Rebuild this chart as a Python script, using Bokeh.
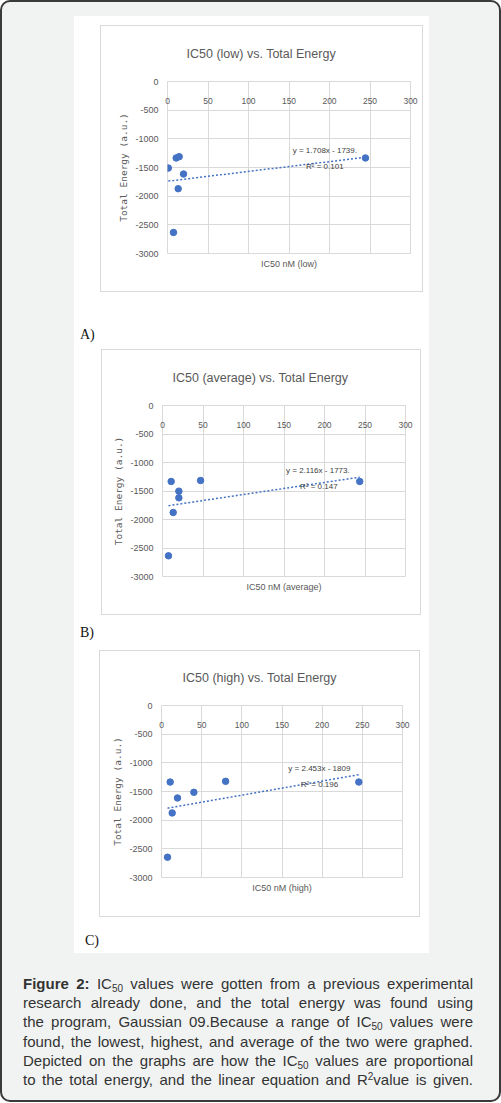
from bokeh.plotting import figure
from bokeh.models import FixedTicker, LinearAxis, Label, Div, Range1d, Title
from bokeh.layouts import column
from bokeh.embed import file_html
from bokeh.resources import INLINE

# ---------------- data ----------------
x_low = [1, 10.7, 14.4, 19.8, 13.2, 7.4, 244.4]
y_low = [-1510, -1334, -1311, -1614, -1870, -2633, -1334]
x_avg = [10.7, 47.0, 20.2, 20.2, 13.2, 7.4, 243.5]
y_avg = [-1333, -1316, -1503, -1620, -1877, -2637, -1333]
x_high = [10.8, 79.8, 40.3, 19.9, 13.3, 7.5, 245.6]
y_high = [-1335, -1323, -1514, -1613, -1874, -2646, -1335]

slopes = [1.708, 2.116, 2.453]
intercepts = [-1739, -1773, -1809]
eq_labels = ["y = 1.708x - 1739.", "y = 2.116x - 1773.", "y = 2.453x - 1809"]
r2_labels = ["R\u00b2 = 0.101", "R\u00b2 = 0.147", "R\u00b2 = 0.196"]
eq_pos = [(154.6, -1199), (152.5, -1140), (157.9, -1092)]
r2_pos = [(171.0, -1486), (169.8, -1421), (173.2, -1370)]
titles = ["IC50 (low) vs. Total Energy", "IC50 (average) vs. Total Energy",
          "IC50 (high) vs. Total Energy"]
x_titles = ["IC50 nM (low)", "IC50 nM (average)", "IC50 nM (high)"]
y_title = "Total Energy (a.u.)"
x_ticks = [0, 50, 100, 150, 200, 250, 300]
x_tick_labels = ["0", "50", "100", "150", "200", "250", "300"]
y_ticks = [0, -500, -1000, -1500, -2000, -2500, -3000]
y_tick_labels = ["0", "-500", "-1000", "-1500", "-2000", "-2500", "-3000"]
panel_labels = ["A)", "B)", "C)"]

caption_lines = [
    "<b>Figure 2:</b> IC<sub>50</sub> values were gotten from a previous experimental",
    "research already done, and the total energy was found using",
    "the program, Gaussian 09.Because a range of IC<sub>50</sub> values were",
    "found, the lowest, highest, and average of the two were graphed.",
    "Depicted on the graphs are how the IC<sub>50</sub> values are proportional",
    "to the total energy, and the linear equation and R<sup>2</sup>value is given.",
]

# ---------------- style ----------------
SANS = "'Liberation Sans', Arial, sans-serif"
MONO = "'DejaVu Sans Mono', monospace"
GREY_TXT = "#595959"
GRID = "#d9d9d9"
BLUE = "#4472C4"

series = [(x_low, y_low), (x_avg, y_avg), (x_high, y_high)]
# canvas (w, h), frame left/top/width/height, title offset, y-label standoff
geom = [
    (321, 265, 66, 55, 243, 172, 19, 8),
    (318, 264, 60, 55, 243, 171, 10, 8),
    (319, 265, 61, 54, 241, 172, 21, 8),
]


def make_chart(i):
    xs, ys = series[i]
    fw, fh, L, T, W, H, toff, ysoff = geom[i]
    p = figure(width=fw, height=fh, x_range=Range1d(0, 300), y_range=Range1d(-3000, 0),
               output_backend="svg", toolbar_location=None, x_axis_location="above",
               min_border_left=L, min_border_right=fw - L - W,
               min_border_top=T, min_border_bottom=fh - T - H,
               background_fill_color="white", border_fill_color="white",
               outline_line_color=GRID)

    xa = p.xaxis[0]
    xa.ticker = FixedTicker(ticks=x_ticks)
    xa.major_label_overrides = dict(zip(x_ticks, x_tick_labels))
    xa.major_tick_out = 0
    xa.major_tick_in = 0
    xa.minor_tick_out = 0
    xa.minor_tick_in = 0
    xa.axis_line_color = None
    xa.major_label_standoff = -22
    xa.major_label_text_font = SANS
    xa.major_label_text_font_size = "8.5px"
    xa.major_label_text_color = GREY_TXT

    p.title.text = titles[i]
    p.title.align = "left"
    p.title.vertical_align = "top"
    p.title.offset = toff
    p.title.standoff = T - 17
    p.title.text_font = SANS
    p.title.text_font_size = "12.5px"
    p.title.text_font_style = "normal"
    p.title.text_color = GREY_TXT

    ya = p.yaxis[0]
    ya.ticker = FixedTicker(ticks=y_ticks)
    ya.major_label_overrides = dict(zip(y_ticks, y_tick_labels))
    ya.major_tick_out = 0
    ya.major_tick_in = 0
    ya.minor_tick_out = 0
    ya.minor_tick_in = 0
    ya.axis_line_color = None
    ya.major_label_standoff = 9
    ya.major_label_text_font = SANS
    ya.major_label_text_font_size = "9px"
    ya.major_label_text_color = GREY_TXT

    # y-axis title as a side title (rotated, centred on the plot area)
    p.add_layout(Title(text=y_title, align="center", vertical_align="bottom",
                       standoff=ysoff, text_font=MONO, text_font_size="9.5px",
                       text_font_style="normal", text_color=GREY_TXT), "left")

    xb = LinearAxis(ticker=FixedTicker(ticks=[]), axis_label=x_titles[i],
                    axis_line_color=None, major_tick_out=0, minor_tick_out=0,
                    major_label_standoff=0, axis_label_standoff=5,
                    axis_label_text_font=SANS, axis_label_text_font_size="9px",
                    axis_label_text_font_style="normal", axis_label_text_color=GREY_TXT)
    p.add_layout(xb, "below")

    p.xgrid.ticker = FixedTicker(ticks=x_ticks)
    p.ygrid.ticker = FixedTicker(ticks=y_ticks)
    p.xgrid.grid_line_color = GRID
    p.ygrid.grid_line_color = GRID

    x0, x1 = min(xs), max(xs)
    p.line([x0, x1], [slopes[i] * x0 + intercepts[i], slopes[i] * x1 + intercepts[i]],
           line_color=BLUE, line_width=1.5, line_dash="2 2")
    p.scatter(xs, ys, size=6.5, color=BLUE)

    for txt, (lx, ly) in ((eq_labels[i], eq_pos[i]), (r2_labels[i], r2_pos[i])):
        p.add_layout(Label(x=lx, y=ly, text=txt, text_font=SANS, text_font_size="8px",
                           text_color="#404040", text_baseline="middle"))
    # own wrapper with the light chart border, so each plot is laid out on its own
    return column(p, width=fw + 2, height=fh + 2,
                  styles={"border": "1px solid #d9d9d9", "background-color": "white"})


def panel_div(txt, top, left):
    return Div(text=txt, width=20, height=16, margin=(top, 0, 0, left),
               styles={"font-family": "'Liberation Serif', 'Times New Roman', serif",
                       "font-size": "14px", "line-height": "16px", "color": "#111"})


f1, f2, f3 = make_chart(0), make_chart(1), make_chart(2)
f1.margin = (9, 0, 0, 26)
f2.margin = (6, 0, 0, 27)
f3.margin = (9, 0, 0, 25)
white = column(
    f1,
    panel_div(panel_labels[0], 35, 6),
    f2,
    panel_div(panel_labels[1], 10, 6),
    f3,
    panel_div(panel_labels[2], 16, 11),
    width=355, height=937, margin=(14, 0, 0, 72),
    styles={"background-color": "white"},
)

cap_html = ('<div style="width:450px;">' + "".join(
    '<div style="width:450px;text-align:justify;text-align-last:justify;'
    'height:19.2px;line-height:19.2px;">%s</div>' % ln.replace(
        "<sub>", '<sub style="font-size:10px;line-height:0;vertical-align:-3px;">').replace(
        "<sup>", '<sup style="font-size:10px;line-height:0;vertical-align:5px;">')
    for ln in caption_lines) + "</div>")
caption = Div(text=cap_html, width=470, height=116, margin=(21, 0, 0, 21),
              styles={"font-family": SANS, "font-size": "15px", "color": "#333333"})

root = column(white, caption, width=501, height=1102,
              styles={"background-color": "#f1f3f2", "border": "2px solid #3a3a3a",
                      "border-radius": "10px"})

open("out.html", "w").write(file_html(root, INLINE))
